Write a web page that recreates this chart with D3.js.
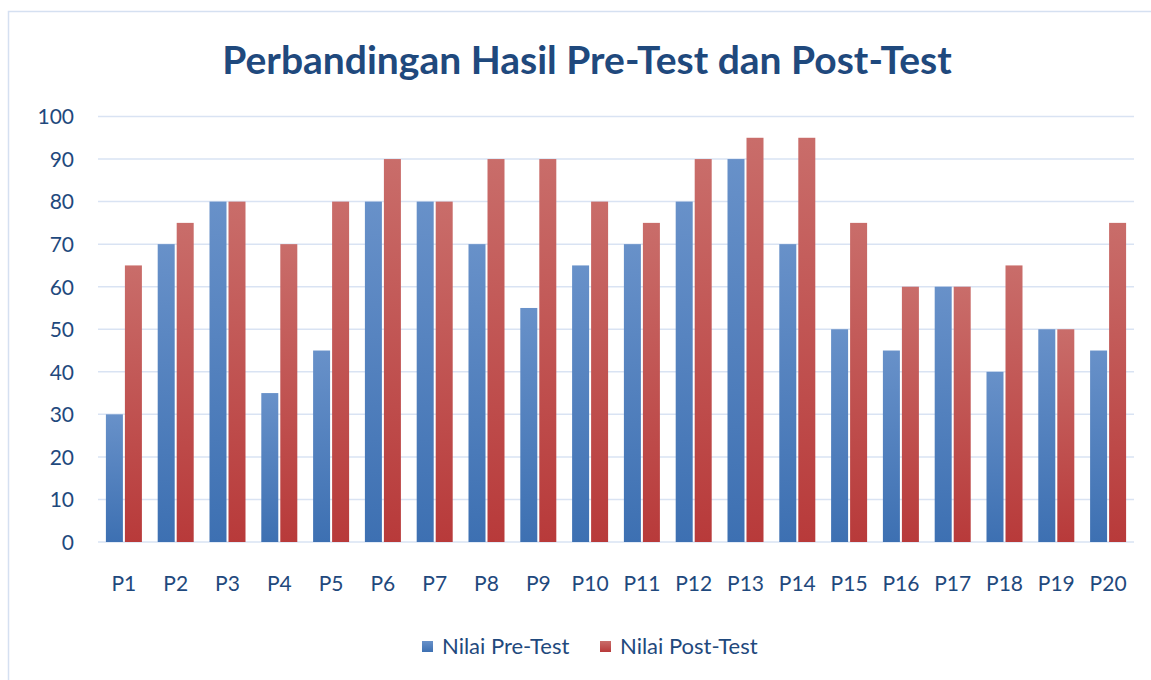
<!doctype html>
<html lang="en">
<head>
  <meta charset="utf-8">
  <script src="https://d3js.org/d3.v7.min.js"></script>
  <style>
    body { margin: 0; background: #fff; }
    text { font-family: Lato, "Open Sans", sans-serif; fill: #1F497D; }
  </style>
</head>
<body>
  <script>
    // data
    var categories = ["P1","P2","P3","P4","P5","P6","P7","P8","P9","P10",
                      "P11","P12","P13","P14","P15","P16","P17","P18","P19","P20"];
    var preTest  = [30,70,80,35,45,80,80,70,55,65,70,80,90,70,50,45,60,40,50,45];
    var postTest = [65,75,80,70,80,90,80,90,90,80,75,90,95,95,75,60,60,65,50,75];
    var yTicks = [0,10,20,30,40,50,60,70,80,90,100];
    var seriesNames = ["Nilai Pre-Test", "Nilai Post-Test"];

    var width = 1151, height = 680;
    var plotLeft = 98, plotRight = 1134, plotTop = 116.5, plotBottom = 542;

    var svg = d3.select("body").append("svg")
        .attr("width", width)
        .attr("height", height);

    // gradients for the bars
    var defs = svg.append("defs");
    function grad(id, c1, c2) {
      var g = defs.append("linearGradient").attr("id", id)
          .attr("x1", 0).attr("y1", 0).attr("x2", 0).attr("y2", 1);
      g.append("stop").attr("offset", "0%").attr("stop-color", c1);
      g.append("stop").attr("offset", "100%").attr("stop-color", c2);
    }
    grad("gBlue", "#6891C9", "#3D70B2");
    grad("gRed", "#C96D6A", "#B83A3A");
    var fills = ["url(#gBlue)", "url(#gRed)"];

    // chart border (only top and left visible)
    svg.append("path")
        .attr("d", "M8.5,700 V11.5 H1160")
        .attr("fill", "none")
        .attr("stroke", "#D5E0F1")
        .attr("stroke-width", 1.5);

    svg.append("text")
        .attr("x", 587).attr("y", 74)
        .attr("text-anchor", "middle")
        .style("font-size", "39px")
        .style("font-weight", "bold")
        .text("Perbandingan Hasil Pre-Test dan Post-Test");

    var x = d3.scaleBand().domain(categories).range([plotLeft, plotRight]);
    var y = d3.scaleLinear().domain([0, 100]).range([plotBottom, plotTop]);

    // gridlines
    svg.append("g").selectAll("line")
        .data(yTicks)
      .enter().append("line")
        .attr("x1", plotLeft).attr("x2", plotRight)
        .attr("y1", function(d) { return y(d); })
        .attr("y2", function(d) { return y(d); })
        .attr("stroke", "#D9E3F3")
        .attr("stroke-width", 1.5);

    // y axis labels
    var yAxis = d3.axisLeft(y).tickValues(yTicks).tickSize(0).tickPadding(24);
    var ya = svg.append("g").attr("transform", "translate(" + plotLeft + ",0)").call(yAxis);
    ya.select(".domain").remove();
    ya.selectAll("text").style("font-size", "21px").attr("dy", "0.35em");

    // x axis labels
    var xAxis = d3.axisBottom(x).tickSize(0).tickPadding(34);
    var xa = svg.append("g").attr("transform", "translate(0," + plotBottom + ")").call(xAxis);
    xa.select(".domain").remove();
    xa.selectAll("text").style("font-size", "21px");

    // bars
    var barW = 17, gap = 2;
    var series = [preTest, postTest];
    series.forEach(function(vals, s) {
      svg.append("g").selectAll("rect")
          .data(vals)
        .enter().append("rect")
          .attr("x", function(d, i) {
            var c = x(categories[i]) + x.bandwidth() / 2;
            return s === 0 ? c - gap / 2 - barW : c + gap / 2;
          })
          .attr("y", function(d) { return y(d); })
          .attr("width", barW)
          .attr("height", function(d) { return y(0) - y(d); })
          .attr("fill", fills[s]);
    });

    // legend
    var legendX = [422, 600];
    var lg = svg.append("g").selectAll("g")
        .data(seriesNames)
      .enter().append("g")
        .attr("transform", function(d, i) { return "translate(" + legendX[i] + ",641)"; });
    lg.append("rect")
        .attr("width", 11).attr("height", 11)
        .attr("fill", function(d, i) { return fills[i]; });
    lg.append("text")
        .attr("x", 20).attr("y", 13)
        .style("font-size", "22px")
        .text(function(d) { return d; });
  </script>
</body>
</html>
